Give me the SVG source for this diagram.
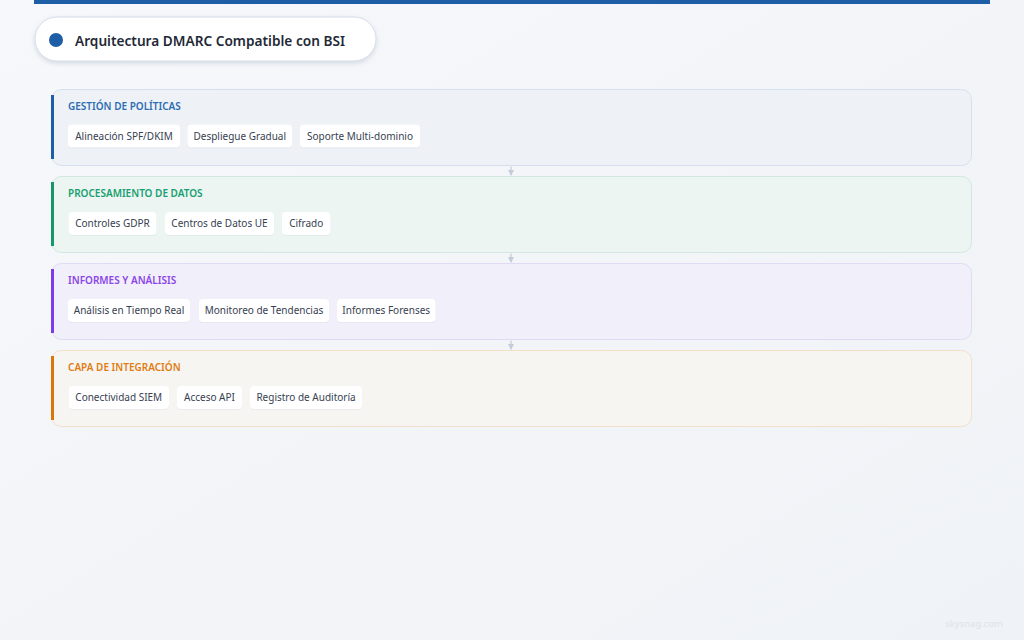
<svg xmlns="http://www.w3.org/2000/svg" width="1024" height="640" viewBox="0 0 1024 640">
<defs>
<linearGradient id="bg" x1="0" y1="0" x2="1" y2="1">
<stop offset="0" stop-color="#f6f8fb"/>
<stop offset="1" stop-color="#eff2f6"/>
</linearGradient>
<filter id="sh" x="-10%" y="-30%" width="120%" height="170%">
<feDropShadow dx="0" dy="2" stdDeviation="2.5" flood-color="#94a3b8" flood-opacity="0.35"/>
</filter>
<filter id="csh" x="-10%" y="-30%" width="120%" height="170%">
<feDropShadow dx="0" dy="0.5" stdDeviation="0.6" flood-color="#94a3b8" flood-opacity="0.25"/>
</filter>
<marker id="ah" viewBox="0 0 6 6" refX="5" refY="3" markerWidth="6" markerHeight="6" orient="auto" markerUnits="userSpaceOnUse">
<path d="M0,0 L6,3 L0,6 z" fill="#c4ccd8"/>
</marker>
<style>
text{font-family:"Noto Sans","Open Sans","Liberation Sans",sans-serif}
.ttl{font-size:15px;font-weight:600;fill:#1f2937}
.lt{font-size:10px;font-weight:600}
.chip{fill:#ffffff;filter:url(#csh)}
.ct{font-size:10px;fill:#374151;text-anchor:middle}
.conn{stroke:#c4ccd8;stroke-width:1.2;fill:none;marker-end:url(#ah)}
</style>
</defs>
<rect width="1024" height="640" fill="url(#bg)"/>
<rect x="34" y="0" width="956" height="4" fill="#1e5ea6"/>

<g id="title">
<rect x="35" y="17" width="341" height="44" rx="22" fill="#ffffff" stroke="#d6dee9" stroke-width="1" filter="url(#sh)"/>
<circle cx="56" cy="40" r="7" fill="#1e5ea6"/>
<text class="ttl" x="75" y="45.5" textLength="270" lengthAdjust="spacingAndGlyphs">Arquitectura DMARC Compatible con BSI</text>
</g>

<g id="connectors">
<line class="conn" x1="511" y1="166.5" x2="511" y2="175"/>
<line class="conn" x1="511" y1="253.5" x2="511" y2="262"/>
<line class="conn" x1="511" y1="340.5" x2="511" y2="349"/>
</g>

<g id="layer-politicas">
<rect x="51.5" y="89.5" width="920" height="76" rx="10" fill="#eef2f7" stroke="#d5e0ee"/>
<rect x="51" y="95" width="3" height="64" fill="#1e5ea6"/>
<text class="lt" x="68" y="109.5" fill="#2d6db3">GESTIÓN DE POLÍTICAS</text>
<rect class="chip" x="68" y="124.5" width="112" height="23" rx="4"/>
<text class="ct" x="124" y="139.5">Alineación SPF/DKIM</text>
<rect class="chip" x="187.5" y="124.5" width="104.5" height="23" rx="4"/>
<text class="ct" x="239.75" y="139.5">Despliegue Gradual</text>
<rect class="chip" x="300" y="124.5" width="120" height="23" rx="4"/>
<text class="ct" x="360" y="139.5">Soporte Multi-dominio</text>
</g>

<g id="layer-datos">
<rect x="51.5" y="176.5" width="920" height="76" rx="10" fill="#edf5f3" stroke="#d0e8df"/>
<rect x="51" y="182" width="3" height="64" fill="#15976a"/>
<text class="lt" x="68" y="196.5" fill="#17a070">PROCESAMIENTO DE DATOS</text>
<rect class="chip" x="68.5" y="212" width="88" height="23" rx="4"/>
<text class="ct" x="112.5" y="227">Controles GDPR</text>
<rect class="chip" x="165" y="212" width="109" height="23" rx="4"/>
<text class="ct" x="219.5" y="227">Centros de Datos UE</text>
<rect class="chip" x="282" y="212" width="48.5" height="23" rx="4"/>
<text class="ct" x="306.25" y="227">Cifrado</text>
</g>

<g id="layer-informes">
<rect x="51.5" y="263.5" width="920" height="76" rx="10" fill="#f1f0fa" stroke="#e0daf4"/>
<rect x="51" y="269" width="3" height="64" fill="#7c3aed"/>
<text class="lt" x="68" y="283.5" fill="#8b45e8">INFORMES Y ANÁLISIS</text>
<rect class="chip" x="68" y="299" width="122" height="23" rx="4"/>
<text class="ct" x="129" y="314">Análisis en Tiempo Real</text>
<rect class="chip" x="199" y="299" width="130" height="23" rx="4"/>
<text class="ct" x="264" y="314">Monitoreo de Tendencias</text>
<rect class="chip" x="337" y="299" width="98.5" height="23" rx="4"/>
<text class="ct" x="386.25" y="314">Informes Forenses</text>
</g>

<g id="layer-integracion">
<rect x="51.5" y="350.5" width="920" height="76" rx="10" fill="#f7f5f2" stroke="#f3dfc8"/>
<rect x="51" y="356" width="3" height="64" fill="#d97706"/>
<text class="lt" x="68" y="370.5" fill="#e07c12">CAPA DE INTEGRACIÓN</text>
<rect class="chip" x="68.5" y="386" width="100.5" height="23" rx="4"/>
<text class="ct" x="118.75" y="401">Conectividad SIEM</text>
<rect class="chip" x="177" y="386" width="65" height="23" rx="4"/>
<text class="ct" x="209.5" y="401">Acceso API</text>
<rect class="chip" x="250" y="386" width="112" height="23" rx="4"/>
<text class="ct" x="306" y="401">Registro de Auditoría</text>
</g>

<text x="1003" y="627" font-size="9.5" fill="#dfe3e8" text-anchor="end">skysnag.com</text>
</svg>
